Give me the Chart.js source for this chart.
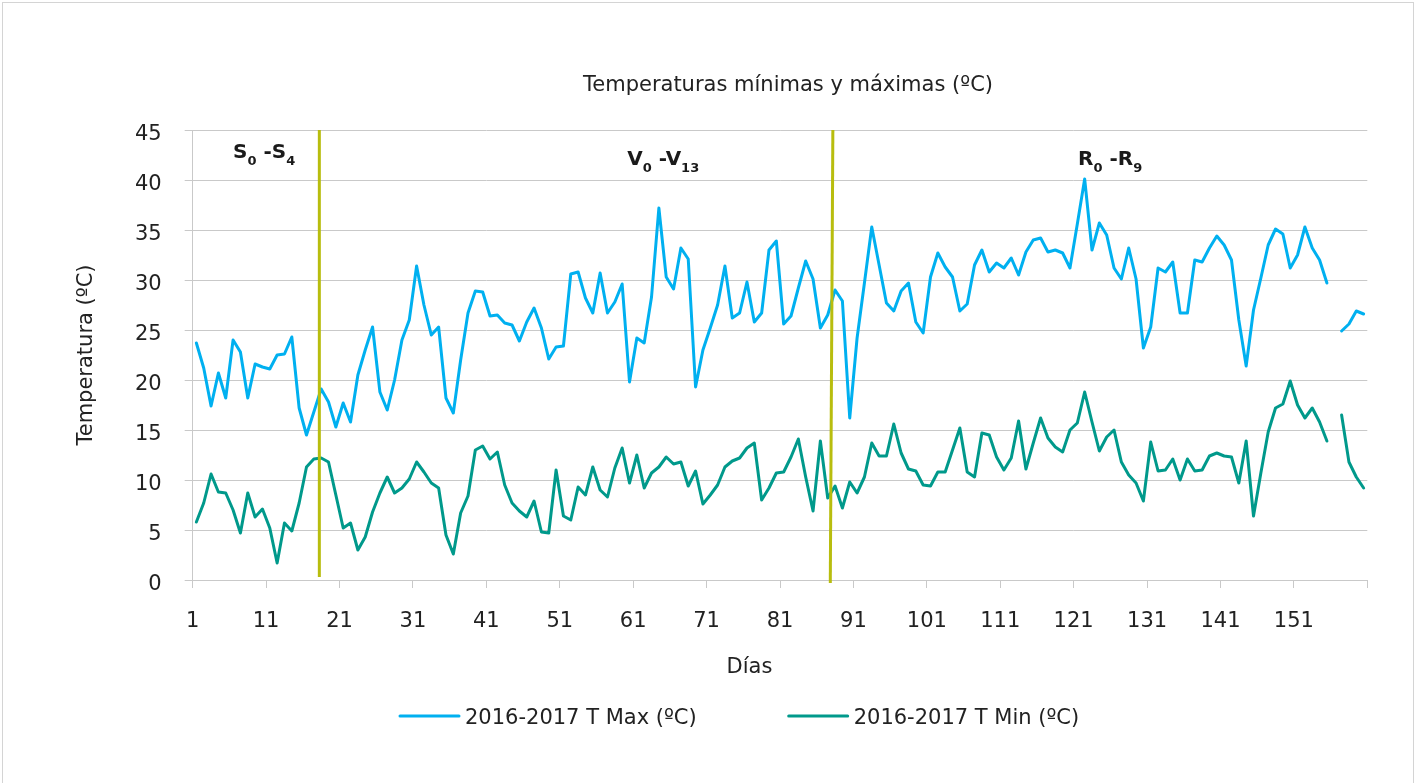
<!DOCTYPE html>
<html lang="es">
<head>
<meta charset="utf-8">
<title>Temperaturas mínimas y máximas (ºC)</title>
<script src="https://cdn.jsdelivr.net/npm/chart.js@4.4.1/dist/chart.umd.min.js"></script>
<style>
  html, body { margin: 0; padding: 0; background: #fff; overflow: hidden; }
  .frame { position: absolute; left: 2px; top: 2px; width: 1412px; height: 790px; border: 1px solid #d4d4d4; box-sizing: border-box; }
  .wrap { position: absolute; left: 0; top: 0; width: 1418px; height: 783px; }
</style>
</head>
<body>
<div class="frame"></div>
<div class="wrap"><canvas id="tempChart"></canvas></div>
<script>
// Days of the season (x categories)
const days = Array.from({ length: 160 }, (_, i) => i + 1);
const xTickLabels = ["1", "11", "21", "31", "41", "51", "61", "71", "81", "91", "101", "111", "121", "131", "141", "151"];

// Daily maximum temperature (ºC), day 156 missing
const tMax = [
  23.7, 21.2, 17.4, 20.7, 18.2, 24.0, 22.8, 18.2, 21.6, 21.3,
  21.1, 22.5, 22.6, 24.3, 17.2, 14.5, 16.8, 19.1, 17.8, 15.3,
  17.7, 15.8, 20.5, 23.0, 25.3, 18.8, 17.0, 20.0, 24.0, 26.0,
  31.4, 27.5, 24.5, 25.3, 18.2, 16.7, 22.0, 26.7, 28.9, 28.8,
  26.4, 26.5, 25.7, 25.5, 23.9, 25.8, 27.2, 25.2, 22.1, 23.3,
  23.4, 30.6, 30.8, 28.2, 26.7, 30.7, 26.7, 27.8, 29.6, 19.8,
  24.2, 23.7, 28.3, 37.2, 30.3, 29.1, 33.2, 32.1, 19.3, 23.0,
  25.2, 27.5, 31.4, 26.2, 26.7, 29.8, 25.8, 26.7, 33.0, 33.9,
  25.6, 26.4, 29.2, 31.9, 30.1, 25.2, 26.5, 29.0, 27.9, 16.2,
  24.2, 29.7, 35.3, 31.5, 27.7, 26.9, 28.9, 29.7, 25.8, 24.7,
  30.3, 32.7, 31.3, 30.3, 26.9, 27.6, 31.5, 33.0, 30.8, 31.7,
  31.2, 32.2, 30.5, 32.8, 34.0, 34.2, 32.8, 33.0, 32.7, 31.2,
  35.6, 40.1, 33.0, 35.7, 34.5, 31.2, 30.1, 33.2, 30.1, 23.2,
  25.3, 31.2, 30.8, 31.8, 26.7, 26.7, 32.0, 31.8, 33.2, 34.4,
  33.5, 32.0, 26.0, 21.4, 27.0, 30.2, 33.5, 35.1, 34.6, 31.2,
  32.5, 35.3, 33.2, 32.0, 29.7, null, 24.9, 25.6, 26.9, 26.6
];

// Daily minimum temperature (ºC), day 156 missing
const tMin = [
  5.8, 7.7, 10.6, 8.8, 8.7, 7.0, 4.7, 8.7, 6.3, 7.1,
  5.2, 1.7, 5.7, 4.9, 7.7, 11.3, 12.1, 12.2, 11.8, 8.5,
  5.2, 5.7, 3.0, 4.3, 6.8, 8.7, 10.3, 8.7, 9.2, 10.1,
  11.8, 10.8, 9.7, 9.2, 4.5, 2.6, 6.7, 8.4, 13.0, 13.4,
  12.1, 12.8, 9.5, 7.7, 6.9, 6.3, 7.9, 4.8, 4.7, 11.0,
  6.4, 6.0, 9.3, 8.5, 11.3, 9.0, 8.3, 11.2, 13.2, 9.7,
  12.5, 9.2, 10.7, 11.3, 12.3, 11.6, 11.8, 9.4, 10.9, 7.6,
  8.5, 9.5, 11.3, 11.9, 12.2, 13.2, 13.7, 8.0, 9.2, 10.7,
  10.8, 12.3, 14.1, 10.3, 6.9, 13.9, 8.2, 9.4, 7.2, 9.8,
  8.7, 10.3, 13.7, 12.4, 12.4, 15.6, 12.7, 11.1, 10.9, 9.5,
  9.4, 10.8, 10.8, 13.0, 15.2, 10.8, 10.3, 14.7, 14.5, 12.3,
  11.0, 12.2, 15.9, 11.1, 13.7, 16.2, 14.2, 13.3, 12.8, 15.0,
  15.7, 18.8, 15.8, 12.9, 14.3, 15.0, 11.8, 10.5, 9.7, 7.9,
  13.8, 10.9, 11.0, 12.1, 10.0, 12.1, 10.9, 11.0, 12.4, 12.7,
  12.4, 12.3, 9.7, 13.9, 6.4, 10.7, 14.8, 17.2, 17.6, 19.9,
  17.5, 16.2, 17.2, 15.8, 13.9, null, 16.5, 11.8, 10.3, 9.2
];

// Phase boundaries (day at top / bottom of the marker, temperature span)
const phaseLines = [
  { dayTop: 17.75, dayBottom: 17.75, tempTop: 45, tempBottom: 0.3 },
  { dayTop: 87.7, dayBottom: 87.35, tempTop: 45, tempBottom: -0.3 }
];

// Phase names: [text, isSubscript] pieces, anchored at (day, temperature)
const phaseLabels = [
  { day: 6.0, temp: 42.2, parts: [["S", false], ["0", true], [" -S", false], ["4", true]] },
  { day: 59.7, temp: 41.5, parts: [["V", false], ["0", true], [" -V", false], ["13", true]] },
  { day: 121.1, temp: 41.5, parts: [["R", false], ["0", true], [" -R", false], ["9", true]] }
];

const FONT = "'DejaVu Sans', sans-serif";
const TEXT = "#222222";
const GRID = "#c9c9c9";

Chart.defaults.font.family = FONT;
Chart.defaults.font.size = 21;
Chart.defaults.color = TEXT;

// Vertical phase markers and their labels
const phasePlugin = {
  id: "phases",
  afterDatasetsDraw(chart) {
    const { ctx, scales: { x, y } } = chart;
    ctx.save();
    ctx.strokeStyle = "#b8bd0e";
    ctx.lineWidth = 3;
    phaseLines.forEach((p) => {
      ctx.beginPath();
      ctx.moveTo(x.getPixelForValue(p.dayTop), y.getPixelForValue(p.tempTop));
      ctx.lineTo(x.getPixelForValue(p.dayBottom), y.getPixelForValue(p.tempBottom));
      ctx.stroke();
    });

    ctx.fillStyle = "#1a1a1a";
    ctx.textBaseline = "alphabetic";
    ctx.textAlign = "left";
    phaseLabels.forEach((l) => {
      let px = x.getPixelForValue(l.day);
      const py = y.getPixelForValue(l.temp);
      l.parts.forEach(([txt, sub]) => {
        ctx.font = sub ? `bold 13px ${FONT}` : `bold 20px ${FONT}`;
        ctx.fillText(txt, px, sub ? py + 7 : py);
        px += ctx.measureText(txt).width;
      });
    });
    ctx.restore();
  },
};

// Axis title "Días" and the line legend
const labelsPlugin = {
  id: "labels",
  afterDraw(chart) {
    const ctx = chart.ctx;
    ctx.save();
    ctx.font = `21px ${FONT}`;
    ctx.fillStyle = TEXT;
    ctx.textBaseline = "alphabetic";
    ctx.textAlign = "center";
    ctx.fillText("Días", 749.5, 673);

    ctx.textAlign = "left";
    let lx = 400;
    const ly = 716;
    chart.data.datasets.forEach((ds) => {
      ctx.strokeStyle = ds.borderColor;
      ctx.lineWidth = 3;
      ctx.lineCap = "round";
      ctx.beginPath();
      ctx.moveTo(lx, ly);
      ctx.lineTo(lx + 59, ly);
      ctx.stroke();
      ctx.fillText(ds.label, lx + 65, ly + 7.5);
      lx += 65 + ctx.measureText(ds.label).width + 92;
    });
    ctx.restore();
  },
};

// Nudge the chart title to where the original sits
const nudgePlugin = {
  id: "nudge",
  afterLayout(chart) {
    const t = chart.titleBlock;
    if (t) {
      t.left += 8;
      t.right += 8;
    }
  },
};

const config = {
  type: "line",
  data: {
    datasets: [
      {
        label: "2016-2017 T Max (ºC)",
        data: days.map((d, i) => ({ x: d, y: tMax[i] })),
        borderColor: "#00b0f0",
        borderWidth: 3,
        pointRadius: 0,
        fill: false,
        tension: 0,
        borderJoinStyle: "round",
        borderCapStyle: "round",
      },
      {
        label: "2016-2017 T Min (ºC)",
        data: days.map((d, i) => ({ x: d, y: tMin[i] })),
        borderColor: "#00998b",
        borderWidth: 3,
        pointRadius: 0,
        fill: false,
        tension: 0,
        borderJoinStyle: "round",
        borderCapStyle: "round",
      },
    ],
  },
  options: {
    responsive: true,
    maintainAspectRatio: false,
    animation: false,
    layout: { padding: { top: 0, left: 0, right: 50.7, bottom: 103 } },
    scales: {
      x: {
        type: "linear",
        min: 0.5,
        max: 160.5,
        afterBuildTicks: (scale) => {
          scale.ticks = xTickLabels
            .map((lbl) => ({ value: Number(lbl) - 0.5 }))
            .concat({ value: 160.5 });
        },
        afterFit: (scale) => {
          scale.height = 100;
        },
        ticks: {
          autoSkip: false,
          maxRotation: 0,
          padding: 21,
          color: TEXT,
          callback: (value) => {
            const lbl = String(value + 0.5);
            return xTickLabels.includes(lbl) ? lbl : "";
          },
        },
        grid: { drawOnChartArea: false, drawTicks: true, tickLength: 8, color: GRID },
        border: { color: GRID, width: 1 },
      },
      y: {
        min: 0,
        max: 45,
        afterFit: (scale) => {
          scale.width = 192.7;
        },
        ticks: { stepSize: 5, padding: 23, labelOffset: 5, color: TEXT },
        grid: { color: GRID, tickLength: 8, drawTicks: true },
        border: { color: GRID, width: 1 },
        title: {
          display: true,
          text: "Temperatura (ºC)",
          color: TEXT,
          padding: { top: 74, bottom: 0 },
        },
      },
    },
    plugins: {
      legend: { display: false },
      tooltip: { enabled: false },
      title: {
        display: true,
        text: "Temperaturas mínimas y máximas (ºC)",
        fullSize: false,
        color: TEXT,
        font: { size: 21, weight: "normal" },
        padding: { top: 73.4, bottom: 31.4 },
      },
    },
  },
  plugins: [phasePlugin, labelsPlugin, nudgePlugin],
};

const ctx = document.getElementById("tempChart").getContext("2d");
const tempChart = new Chart(ctx, config);
</script>
</body>
</html>
